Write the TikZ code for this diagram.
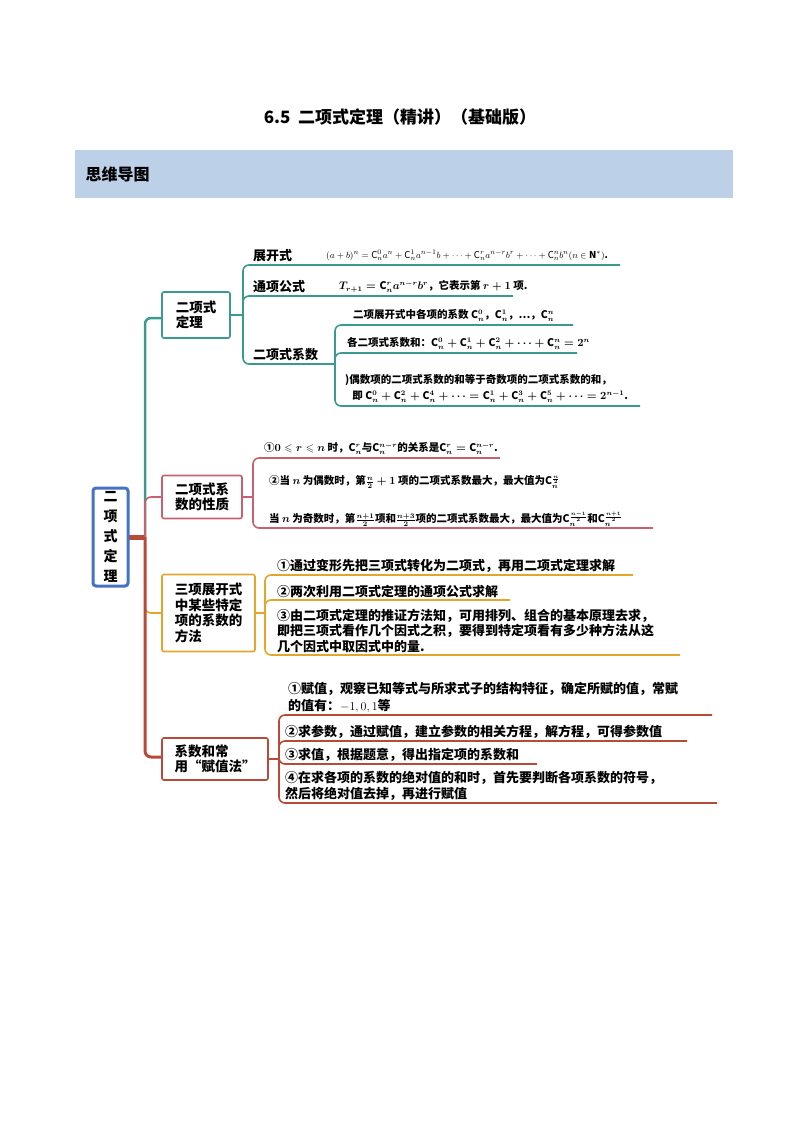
\documentclass[tikz,border=0pt]{standalone}
\usepackage{fontspec}
\usepackage{amsmath,amssymb}
\setmainfont{Noto Sans CJK SC}
\definecolor{teal1}{HTML}{3B9A8F}
\definecolor{pink1}{HTML}{C4636F}
\definecolor{orange1}{HTML}{E3A52A}
\definecolor{red1}{HTML}{B84A3A}
\definecolor{blue1}{HTML}{4472C4}
\definecolor{hdr}{HTML}{BCD0E8}
\tikzset{
 cat/.style={draw=#1,line width=1.6pt,rounded corners=2pt,fill=white,inner sep=3pt,align=left,font=\fontsize{13.5}{15.5}\selectfont\bfseries},
 leaf/.style={anchor=south west,inner sep=1pt,font=\fontsize{13}{16}\selectfont\bfseries,align=left},
 sm/.style={anchor=south west,inner sep=1pt,font=\fontsize{10.5}{13}\selectfont\bfseries\boldmath},
 ln/.style={draw=#1,line width=1.6pt,rounded corners=6pt},
}
\begin{document}
\begin{tikzpicture}[x=1pt,y=-1pt]
\useasboundingbox (0,0) rectangle (800,1132);
\node[font=\fontsize{17}{20}\selectfont\bfseries] (title) at (400,117) {6.5\ \ 二项式定理（精讲）（基础版）};
\fill[hdr] (75,150) rectangle (733,198);
\node[anchor=west,font=\fontsize{16}{18}\selectfont\bfseries] (hd) at (82,174) {思维导图};
% trunk
\draw[red1,line width=5pt] (128,537) -- (145,537);
\draw[ln=teal1,line width=2.5pt] (145,537) |- (162,318);
\draw[ln=pink1] (145,537) |- (162,497);
\draw[ln=orange1] (145,537) |- (162,613);
\draw[ln=red1,line width=3pt] (145,537) |- (162,757);
% root
\node[draw=blue1,line width=3pt,rounded corners=3pt,fill=white,minimum width=35pt,minimum height=98pt,align=center,font=\fontsize{14}{20}\selectfont\bfseries] (root) at (110.5,537) {二\\项\\式\\定\\理};
% categories
\node[cat=teal1,minimum width=68pt,minimum height=46pt] (c1) at (196,315) {二项式\\定理};
\node[cat=pink1,minimum width=80pt,minimum height=43pt] (c2) at (202,497) {二项式系\\数的性质};
\node[cat=orange1,minimum width=93pt,minimum height=77pt] (c3) at (208.5,613) {三项展开式\\中某些特定\\项的系数的\\方法};
\node[cat=red1,minimum width=106pt,minimum height=42pt] (c4) at (215,759) {系数和常\\用“赋值法”};
% branch 1
\draw[ln=teal1] (c1.east) -- (243,315);
\draw[ln=teal1] (243,315) |- (620,265);
\draw[ln=teal1] (243,315) |- (513,296);
\draw[ln=teal1] (243,315) |- (335,364);
\node[leaf] (l11) at (252,263) {展开式};
\node[leaf] (l12) at (252,294) {通项公式};
\node[leaf] (l13) at (252,362) {二项式系数};
\node[sm,font=\fontsize{9.5}{12}\selectfont\bfseries] (f1) at (325,262) {$(a+b)^n=\mathrm C_n^0a^n+\mathrm C_n^1a^{n-1}b+\dots+\mathrm C_n^ra^{n-r}b^r+\dots+\mathrm C_n^nb^n(n\in\mathbf N^*)$.};
\node[sm] (f2) at (338,294) {$T_{r+1}=\mathrm C_n^ra^{n-r}b^r$，它表示第 $r+1$ 项.};
\draw[ln=teal1] (335,364) |- (573,325);
\draw[ln=teal1] (335,364) |- (577,353);
\draw[ln=teal1] (335,364) |- (640,406);
\node[sm] (f3) at (352,323) {二项展开式中各项的系数 $\mathrm C_n^0$，$\mathrm C_n^1$，…，$\mathrm C_n^n$};
\node[sm] (f4) at (346,351) {各二项式系数和：$\mathrm C_n^0+\mathrm C_n^1+\mathrm C_n^2+\cdots+\mathrm C_n^n=2^n$};
\node[sm,align=left] (f5) at (344,404) {)偶数项的二项式系数的和等于奇数项的二项式系数的和，\\[3pt]\ \ \ 即 $\mathrm C_n^0+\mathrm C_n^2+\mathrm C_n^4+\cdots=\mathrm C_n^1+\mathrm C_n^3+\mathrm C_n^5+\cdots=2^{n-1}$.};
% branch 2
\draw[ln=pink1] (c2.east) -- (253,497);
\draw[ln=pink1] (253,497) |- (500,458);
\draw[ln=pink1] (253,497) |- (653,528);
\node[sm] (p1) at (263,456) {①$0\leqslant r\leqslant n$ 时，$\mathrm C_n^r$与$\mathrm C_n^{n-r}$的关系是$\mathrm C_n^r=\mathrm C_n^{n-r}$.};
\node[sm] (p2) at (268,490) {②当 $n$ 为偶数时，第$\frac n2+1$ 项的二项式系数最大，最大值为$\mathrm C_n^{\frac n2}$};
\node[sm] (p3) at (268,528) {当 $n$ 为奇数时，第$\frac{n+1}{2}$项和$\frac{n+3}{2}$项的二项式系数最大，最大值为$\mathrm C_n^{\frac{n-1}{2}}$和$\mathrm C_n^{\frac{n+1}{2}}$};
% branch 3
\draw[ln=orange1] (c3.east) -- (265,613);
\draw[ln=orange1] (265,613) |- (633,575);
\draw[ln=orange1] (265,613) |- (510,600);
\draw[ln=orange1] (265,613) |- (680,655);
\node[leaf] (o1) at (276,574) {①通过变形先把三项式转化为二项式，再用二项式定理求解};
\node[leaf] (o2) at (276,599) {②两次利用二项式定理的通项公式求解};
\node[leaf,font=\fontsize{13}{15.5}\selectfont\bfseries] (o3) at (276,654) {③由二项式定理的推证方法知，可用排列、组合的基本原理去求，\\即把三项式看作几个因式之积，要得到特定项看有多少种方法从这\\几个因式中取因式中的量.};
% branch 4
\draw[ln=red1] (c4.east) -- (279,759);
\draw[ln=red1] (279,759) |- (712,715);
\draw[ln=red1] (279,759) |- (687,741);
\draw[ln=red1] (279,759) |- (537,764);
\draw[ln=red1] (279,759) |- (717,803);
\node[leaf,font=\fontsize{13}{16.5}\selectfont\bfseries] (r1) at (287,714) {①赋值，观察已知等式与所求式子的结构特征，确定所赋的值，常赋\\的值有：$-1,0,1$等};
\node[leaf] (r2) at (284,740) {②求参数，通过赋值，建立参数的相关方程，解方程，可得参数值};
\node[leaf] (r3) at (284,763) {③求值，根据题意，得出指定项的系数和};
\node[leaf,font=\fontsize{13}{16.5}\selectfont\bfseries] (r4) at (284,802) {④在求各项的系数的绝对值的和时，首先要判断各项系数的符号，\\然后将绝对值去掉，再进行赋值};
\end{tikzpicture}
\end{document}
